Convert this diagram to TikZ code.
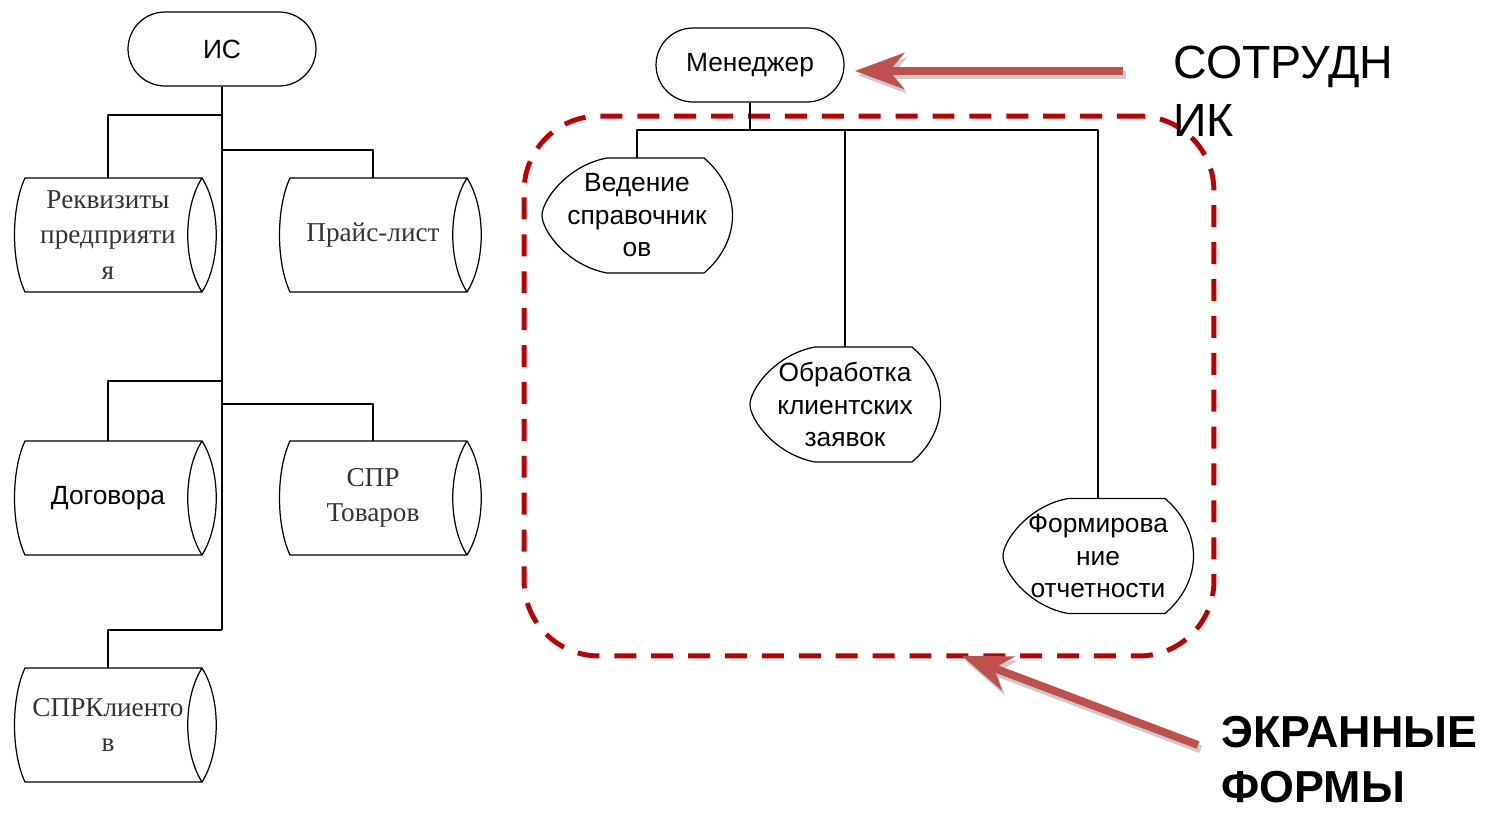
\documentclass[tikz,border=0pt]{standalone}
\usepackage{fontspec}
\setmainfont{Liberation Sans}
\newfontfamily\trfont{Liberation Serif}
\usepackage{tikz}
\usetikzlibrary{arrows.meta}
\definecolor{ccqqqq}{rgb}{0.75,0.,0.}
\definecolor{cfudud}{rgb}{0.753,0.314,0.302}
\definecolor{ddddzz}{rgb}{0.8,0.8,0.8}
\definecolor{tttttt}{rgb}{0.2,0.2,0.2}

\tikzset{
  term/.style={draw,line width=0.7pt,rounded corners=0.74cm,minimum width=3.76cm,minimum height=1.48cm,inner sep=0pt},
  ser/.style={font=\trfont\fontsize{15.5}{20}\selectfont,text=tttttt},
  drum/.pic={
    \draw[line width=0.7pt] (-83,-57) -- (94,-57) .. controls (75,-27) and (75,27) .. (94,57) -- (-83,57) .. controls (-97,27) and (-97,-27) .. (-83,-57) -- cycle;
    \draw[line width=0.7pt] (94,-57) .. controls (113,-27) and (113,27) .. (94,57);
    \node[inner sep=0pt,minimum width=3.76cm,minimum height=2.28cm,align=center] (-b) at (0,0) {#1};
  },
  screen/.pic={
    \draw[line width=0.7pt] (-30,-57.5) -- (67,-57.5) .. controls (105,-25) and (105,25) .. (67,57.5) -- (-30,57.5) .. controls (-70,50) and (-95,15) .. (-95,0) .. controls (-95,-15) and (-70,-50) .. (-30,-57.5) -- cycle;
    \node[inner sep=0pt,minimum width=3.8cm,minimum height=2.3cm,align=center] (-b) at (0,0) {#1};
  },
  conn/.style={line width=0.7pt},
  redarrow/.style={->,line width=4.5pt,line cap=butt,color=cfudud},
  shadarrow/.style={->,line width=4.5pt,line cap=butt,color=ddddzz,transform canvas={shift={(1.5pt,-2.5pt)}}},
  dashbox/.style={draw=ccqqqq,line width=2.8pt,dash pattern=on 12.5pt off 8.5pt,rounded corners=1.5cm,minimum width=13.8cm,minimum height=10.8cm,inner sep=0pt}
}

\begin{document}
\begin{tikzpicture}[line join=round,>={Stealth[length=28pt,width=20.5pt,inset=8.5pt]},x=0.02cm,y=-0.02cm,font=\fontsize{15}{18.5}\selectfont]
\useasboundingbox (0,0) rectangle (1494,814);
% left tree: ИС and its stores
\node[term] (is) at (222,49) {ИС};
\pic[ser] (req) at (108,235) {drum={Реквизиты\\предприяти\\я}};
\pic[ser] (prc) at (373,235) {drum={Прайс-лист}};
\pic (dog) at (108,498) {drum={Договора}};
\pic[ser] (tov) at (373,498) {drum={СПР\\Товаров}};
\pic[ser] (cli) at (108,725) {drum={СПРКлиенто\\в}};
\coordinate (j1) at (222,115);
\coordinate (j2) at (222,150);
\coordinate (j3) at (222,381);
\coordinate (j4) at (222,404);
\coordinate (j5) at (222,630);
\draw[conn] (is.south) -- (j5);
\draw[conn] (j1) -| (req-b.north);
\draw[conn] (j2) -| (prc-b.north);
\draw[conn] (j3) -| (dog-b.north);
\draw[conn] (j4) -| (tov-b.north);
\draw[conn] (j5) -| (cli-b.north);
% right tree: Менеджер and the screens
\node[dashbox] (scr) at (869,386) {};
\node[term] (men) at (750,65) {Менеджер};
\pic (ved) at (637,215.5) {screen={Ведение\\справочник\\ов}};
\pic (obr) at (845,404.5) {screen={Обработка\\клиентских\\заявок}};
\pic (frm) at (1098,556) {screen={Формирова\\ние\\отчетности}};
\coordinate (m1) at (750,130);
\draw[conn] (men.south) -- (m1);
\draw[conn] (ved-b.north) |- (m1) -| (frm-b.north);
\draw[conn] (m1 -| obr-b.north) -- (obr-b.north);
% labels and red arrows
\node[anchor=north west,inner sep=0pt,align=left,font=\fontsize{26.5}{33}\selectfont] (sotr) at (1173,46) {СОТРУДН\\ИК};
\node[anchor=north west,inner sep=0pt,align=left,font=\bfseries\fontsize{25.5}{31.5}\selectfont] (ekr) at (1221,716) {ЭКРАННЫЕ\\ФОРМЫ};
\coordinate (t1) at (1123,71);
\coordinate (h1) at (855,71);
\coordinate (t2) at (1198,745);
\coordinate (h2) at (962,656);
\draw[shadarrow] (t1) -- (h1);
\draw[shadarrow] (t2) -- (h2);
\draw[redarrow] (t1) -- (h1);
\draw[redarrow] (t2) -- (h2);
\end{tikzpicture}
\end{document}
